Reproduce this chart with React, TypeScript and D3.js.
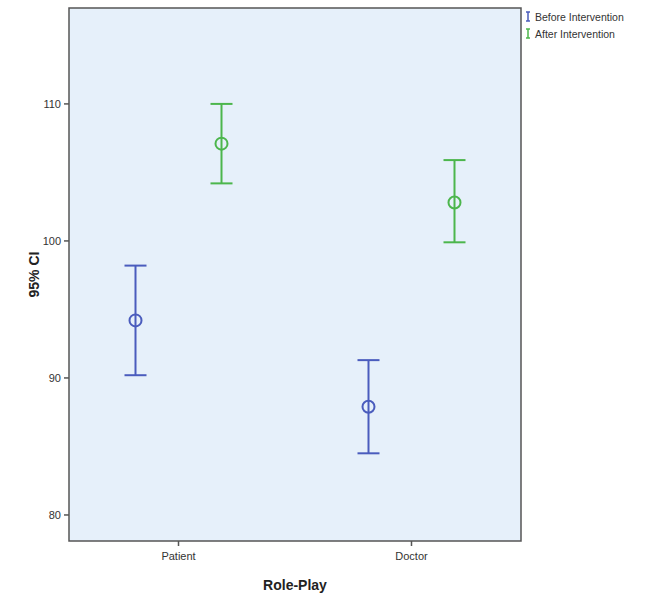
import React from 'react'
import * as d3 from 'd3'

const categories = ['Patient', 'Doctor']
const groups = ['Before Intervention', 'After Intervention']
const groupColors = ['#4a5cbd', '#4cb64c']
// [category][group] -> { mean, lower, upper }
const means = [
  [94.2, 107.1],
  [87.9, 102.8],
]
const lowers = [
  [90.2, 104.2],
  [84.5, 99.9],
]
const uppers = [
  [98.2, 110.0],
  [91.3, 105.9],
]
const yTicks = [80, 90, 100, 110]

const W = 651
const H = 599
const margin = { top: 8, right: 130, bottom: 58, left: 69 }

const App = () => {
  const plotW = W - margin.left - margin.right
  const plotH = H - margin.top - margin.bottom

  const y = d3.scaleLinear().domain([78.1, 117]).range([plotH, 0])
  const x = d3.scalePoint<string>().domain(categories).range([0, plotW]).padding(0.47)
  const offset = d3.scalePoint<string>().domain(groups).range([-43, 43])

  const font = 'Liberation Sans, Arial, sans-serif'
  const capHalf = 11

  return (
    <svg width={W} height={H} style={{ position: 'absolute', left: 0, top: 0 }} fontFamily={font}>
      <g transform={`translate(${margin.left},${margin.top})`}>
        <rect x={0} y={0} width={plotW} height={plotH} fill="#e6f0fa" stroke="#555" strokeWidth={1.5} />
        {yTicks.map((t) => (
          <g key={t} transform={`translate(0,${y(t)})`}>
            <line x1={-5} x2={0} stroke="#555" strokeWidth={1.5} />
            <text x={-8} dy="0.35em" textAnchor="end" fontSize={11} fill="#333">
              {t}
            </text>
          </g>
        ))}
        {categories.map((c) => (
          <g key={c} transform={`translate(${x(c)},${plotH})`}>
            <line y1={0} y2={5} stroke="#555" strokeWidth={1.5} />
            <text y={19} textAnchor="middle" fontSize={11} fill="#333">
              {c}
            </text>
          </g>
        ))}
        {categories.map((c, ci) =>
          groups.map((g, gi) => {
            const cx = (x(c) as number) + (offset(g) as number)
            const col = groupColors[gi]
            return (
              <g key={c + g} stroke={col} strokeWidth={2} fill="none">
                <line x1={cx} x2={cx} y1={y(uppers[ci][gi])} y2={y(lowers[ci][gi])} />
                <line x1={cx - capHalf} x2={cx + capHalf} y1={y(uppers[ci][gi])} y2={y(uppers[ci][gi])} />
                <line x1={cx - capHalf} x2={cx + capHalf} y1={y(lowers[ci][gi])} y2={y(lowers[ci][gi])} />
                <circle cx={cx} cy={y(means[ci][gi])} r={6} />
              </g>
            )
          })
        )}
        <text
          transform={`translate(-30,${plotH / 2}) rotate(-90)`}
          textAnchor="middle"
          fontSize={14}
          fontWeight="bold"
          fill="#222"
        >
          95% CI
        </text>
        <text x={plotW / 2} y={plotH + 49} textAnchor="middle" fontSize={14} fontWeight="bold" fill="#222">
          Role-Play
        </text>
      </g>
      {groups.map((g, gi) => {
        const ly = 17 + gi * 17
        const lx = 528
        return (
          <g key={g}>
            <g stroke={groupColors[gi]} strokeWidth={1.5}>
              <line x1={lx} x2={lx} y1={ly - 5} y2={ly + 4} />
              <line x1={lx - 2} x2={lx + 2} y1={ly - 5} y2={ly - 5} />
              <line x1={lx - 2} x2={lx + 2} y1={ly + 4} y2={ly + 4} />
            </g>
            <text x={lx + 7} y={ly} dy="0.35em" fontSize={10.5} fill="#333">
              {g}
            </text>
          </g>
        )
      })}
    </svg>
  )
}

export default App
